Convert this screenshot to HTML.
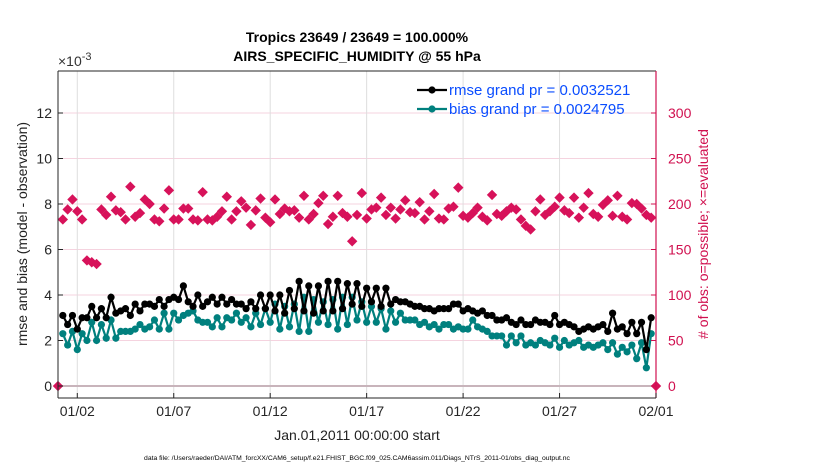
<!DOCTYPE html>
<html><head><meta charset="utf-8">
<style>
html,body{margin:0;padding:0;background:#fff;}
svg{display:block;font-family:"Liberation Sans",Arial,sans-serif;}
</style></head>
<body>
<svg id="chart" width="830" height="470" viewBox="0 0 830 470" xmlns="http://www.w3.org/2000/svg">
<g id="grid"></g>
<g id="series"></g>
<g id="axes"></g>
<text x="357" y="42" text-anchor="middle" font-size="14" font-weight="bold" fill="#000">Tropics 23649 / 23649 = 100.000%</text>
<text x="357" y="61" text-anchor="middle" font-size="14" font-weight="bold" fill="#000">AIRS_SPECIFIC_HUMIDITY @ 55 hPa</text>
<text x="58" y="66" font-size="14" fill="#333">×10<tspan dy="-6" font-size="11">-3</tspan></text>
<text x="357" y="440" text-anchor="middle" font-size="14" fill="#222">Jan.01,2011 00:00:00 start</text>
<text transform="translate(27,234) rotate(-90)" text-anchor="middle" font-size="14" fill="#222">rmse and bias (model - observation)</text>
<text transform="translate(708,234) rotate(-90)" text-anchor="middle" font-size="14" fill="#d0104f">#  of obs: o=possible; ×=evaluated</text>
<text x="357" y="460" text-anchor="middle" font-size="6.8" fill="#000">data file: /Users/raeder/DAI/ATM_forcXX/CAM6_setup/f.e21.FHIST_BGC.f09_025.CAM6assim.011/Diags_NTrS_2011-01/obs_diag_output.nc</text>
<g id="legend"></g>
</svg>
<script>
const rmse = [3.1,2.7,3.1,2.5, 3.0,3.0,3.5,3.0, 3.4,3.0,3.9,3.2, 3.3,3.4,3.1,3.6, 3.3,3.6,3.6,3.5, 3.8,3.5,3.8,3.9, 3.8,4.4,3.7,3.5, 4.0,3.5,3.7,3.9, 3.6,3.9,3.6,3.8, 3.6,3.6,3.4,3.7, 3.4,4.0,3.4,4.0, 3.3,4.0,3.2,4.2, 3.4,4.6,3.3,4.4, 3.2,4.4,3.3,4.6, 3.3,4.6,3.4,4.5, 3.6,4.5,3.5,4.3, 3.7,4.3,3.5,4.3, 3.6,3.8,3.7,3.7, 3.6,3.5,3.5,3.4, 3.4,3.3,3.4,3.4, 3.4,3.6,3.6,3.3, 3.4,3.3,3.2,3.3, 3.1,3.1,2.9,2.9, 3.0,2.8,2.7,2.9, 2.7,2.7,2.9,2.8, 2.8,2.7,3.1,2.7, 2.8,2.7,2.6,2.4, 2.5,2.6,2.5,2.6, 2.7,2.4,3.2,2.5, 2.6,2.3,2.8,2.3, 2.8,1.6,3.0];
const bias = [2.3,1.8,2.4,1.6, 2.3,2.0,2.8,2.0, 2.7,2.1,2.9,2.1, 2.4,2.4,2.4,2.5, 2.7,2.5,2.6,2.9, 2.5,3.2,2.5,3.2, 2.9,3.1,3.2,3.3, 2.9,2.8,2.8,2.6, 3.0,2.6,3.0,2.9, 3.2,2.8,3.0,2.6, 3.2,2.7,3.4,2.8, 3.6,2.5,3.5,2.6, 3.6,2.4,3.9,2.4, 3.8,2.8,3.7,2.7, 3.8,2.5,3.9,2.7, 3.9,2.9,3.7,2.8, 3.5,2.8,3.4,2.5, 3.3,2.8,3.2,2.9, 2.9,2.9,2.7,2.8, 2.6,2.7,2.5,2.7, 2.7,2.5,2.6,2.5, 2.5,2.9,2.6,2.5, 2.4,2.2,2.2,2.2, 1.8,2.2,1.9,2.2, 1.8,1.9,1.8,2.0, 1.9,1.8,2.1,1.7, 2.0,1.8,1.9,2.0, 1.7,1.8,1.7,1.8, 1.9,1.6,1.9,1.4, 1.7,1.5,1.8,1.2, 1.9,0.8,2.3];
const obsCount = [0, 183,194,205,192, 183,138,136,134, 194,188,208,193, 191,183,219,186, 190,205,200,183, 181,195,215,183, 183,195,195,183, 182,213,183,182, 186,192,208,183, 192,203,196,177, 193,206,185,180, 205,189,195,192, 193,185,209,183, 189,201,209,178, 186,209,190,186, 159,188,212,184, 194,196,207,188, 196,184,194,204, 191,190,202,183, 192,211,184,183, 195,197,218,187, 185,190,196,186, 182,210,189,187, 192,196,194,183, 176,172,192,205, 188,192,197,207, 193,190,207,185, 196,212,189,186, 199,204,187,209, 186,183,201,200, 195,188,185, 0];
const xTickDays = [1,6,11,16,21,26,31];
const xTickLabels = ["01/02","01/07","01/12","01/17","01/22","01/27","02/01"];
const yTicksLeft = [0,2,4,6,8,10,12];
const yTicksRight = [0,50,100,150,200,250,300];
const legendLabels = ["rmse grand pr = 0.0032521","bias grand pr = 0.0024795"];

const NS="http://www.w3.org/2000/svg";
const PL=58, PR=656, PT=71, PB=398;
const xs = d => PL + (d/31)*(PR-PL);
const ys = v => 386 - v*22.75;
const yr = c => ys(c/25);
function mk(tag, attrs, parent){const e=document.createElementNS(NS,tag);for(const k in attrs)e.setAttribute(k,attrs[k]);parent.appendChild(e);return e;}
const grid=document.getElementById('grid'), series=document.getElementById('series'), axes=document.getElementById('axes'), legend=document.getElementById('legend');

yTicksLeft.forEach(v=>{ if(v===0) return;
  const l=mk('line',{x1:PL,x2:PR,y1:ys(v),y2:ys(v),stroke:'#f5d3df','stroke-width':1},grid);
  
  
});
xTickDays.forEach(d=>{
  const l=mk('line',{x1:xs(d),x2:xs(d),y1:PT,y2:PB,stroke:'#dedede','stroke-width':1},grid);
  
  
});
const zl=mk('line',{x1:PL,x2:PR,y1:ys(0),y2:ys(0),stroke:'#c8b4bb','stroke-width':2},grid);



function drawLine(vals,color,name){
  const pts=vals.map((v,i)=>xs(0.25+i*0.25)+','+ys(v)).join(' ');
  const pl=mk('polyline',{points:pts,fill:'none',stroke:color,'stroke-width':2.2},series);
  
  
  vals.forEach((v,i)=>{
    const c=mk('circle',{cx:xs(0.25+i*0.25),cy:ys(v),r:3.6,fill:color},series);
    
    
  });
}
obsCount.forEach((c,i)=>{
  const d = i===0?0:(i===obsCount.length-1?31:i*0.25);
  const x=xs(d), y=yr(c), s=5.2;
  const p=mk('polygon',{points:`${x},${y-s} ${x+s},${y} ${x},${y+s} ${x-s},${y}`,fill:'#d7125a'},series);
  
  
});
drawLine(bias,'#00807e','bias');
drawLine(rmse,'#000000','rmse');

const lb=mk('line',{x1:PL,x2:PL,y1:PT,y2:PB,stroke:'#262626','stroke-width':1},axes);


const tb=mk('line',{x1:PL,x2:PR,y1:PT,y2:PT,stroke:'#262626','stroke-width':1},axes);


const bb=mk('line',{x1:PL,x2:PR,y1:PB,y2:PB,stroke:'#262626','stroke-width':1},axes);


const rb=mk('line',{x1:PR,x2:PR,y1:PT,y2:PB,stroke:'#d0104f','stroke-width':1.2},axes);


yTicksLeft.forEach(v=>{
  mk('line',{x1:PL,x2:PL+5,y1:ys(v),y2:ys(v),stroke:'#262626'},axes);
  const t=mk('text',{x:PL-6,y:ys(v)+5,'text-anchor':'end','font-size':14,fill:'#262626'},axes);
  t.textContent=v;
  
  
});
yTicksRight.forEach(v=>{
  mk('line',{x1:PR-5,x2:PR,y1:yr(v),y2:yr(v),stroke:'#d0104f'},axes);
  const t=mk('text',{x:PR+12,y:yr(v)+5,'font-size':14,fill:'#d0104f'},axes);
  t.textContent=v;
  
  
});
xTickDays.forEach((d,i)=>{
  mk('line',{x1:xs(d),x2:xs(d),y1:PB,y2:PB-5,stroke:'#262626'},axes);
  const t=mk('text',{x:xs(d),y:416,'text-anchor':'middle','font-size':14,fill:'#262626'},axes);
  t.textContent=xTickLabels[i];
  
  
});

[['#000000',90],['#00807e',109]].forEach((s,i)=>{
  mk('line',{x1:417,x2:447,y1:s[1],y2:s[1],stroke:s[0],'stroke-width':2.2},legend);
  mk('circle',{cx:432,cy:s[1],r:3.6,fill:s[0]},legend);
  const t=mk('text',{x:449,y:s[1]+5,'font-size':15,fill:'#0a4dff'},legend);
  t.textContent=legendLabels[i];
  
  
});
</script>
</body></html>
